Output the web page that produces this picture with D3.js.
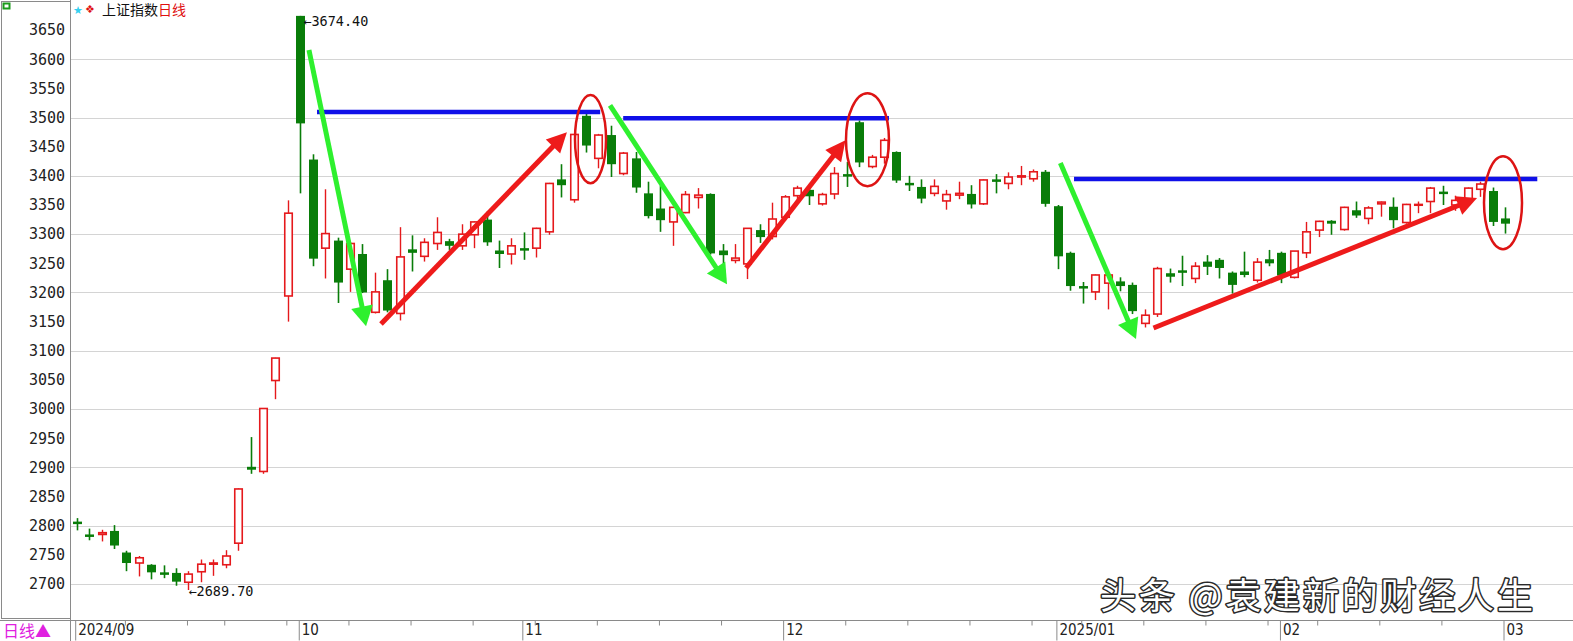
<!DOCTYPE html>
<html><head><meta charset="utf-8">
<script src="https://cdn.jsdelivr.net/npm/d3@7"></script>
<style>html,body{margin:0;padding:0;background:#fff;overflow:hidden}</style>
</head><body>
<svg id="chart" width="1573" height="641"></svg>
<script>
// ---------- DATA ----------
const dates = [
"2024-09-03","2024-09-04","2024-09-05","2024-09-06","2024-09-09","2024-09-10","2024-09-11","2024-09-12","2024-09-13","2024-09-18","2024-09-19","2024-09-20","2024-09-23","2024-09-24","2024-09-25","2024-09-26","2024-09-27","2024-09-30",
"2024-10-08","2024-10-09","2024-10-10","2024-10-11","2024-10-14","2024-10-15","2024-10-16","2024-10-17","2024-10-18","2024-10-21","2024-10-22","2024-10-23","2024-10-24","2024-10-25","2024-10-28","2024-10-29","2024-10-30","2024-10-31",
"2024-11-01","2024-11-04","2024-11-05","2024-11-06","2024-11-07","2024-11-08","2024-11-11","2024-11-12","2024-11-13","2024-11-14","2024-11-15","2024-11-18","2024-11-19","2024-11-20","2024-11-21","2024-11-22","2024-11-25","2024-11-26","2024-11-27","2024-11-28","2024-11-29",
"2024-12-02","2024-12-03","2024-12-04","2024-12-05","2024-12-06","2024-12-09","2024-12-10","2024-12-11","2024-12-12","2024-12-13","2024-12-16","2024-12-17","2024-12-18","2024-12-19","2024-12-20","2024-12-23","2024-12-24","2024-12-25","2024-12-26","2024-12-27","2024-12-30","2024-12-31",
"2025-01-02","2025-01-03","2025-01-06","2025-01-07","2025-01-08","2025-01-09","2025-01-10","2025-01-13","2025-01-14","2025-01-15","2025-01-16","2025-01-17","2025-01-20","2025-01-21","2025-01-22","2025-01-23","2025-01-24","2025-01-27",
"2025-02-05","2025-02-06","2025-02-07","2025-02-10","2025-02-11","2025-02-12","2025-02-13","2025-02-14","2025-02-17","2025-02-18","2025-02-19","2025-02-20","2025-02-21","2025-02-24","2025-02-25","2025-02-26","2025-02-27","2025-02-28",
"2025-03-03"];

const openV = [2807,2785,2785,2791,2754,2736,2733,2720,2719,2703,2721,2734,2733,2770,2901,2893,3049,3194,
3674.4,3428,3276,3289,3240,3266,3166,3221,3164,3274,3262,3284,3288,3280,3299,3325,3272,3266,
3276,3276,3304,3394,3359,3503,3430,3470,3404,3430,3370,3344,3321,3337,3363,3369,3272,3255,3249,3307,3296,
3329,3366,3376,3352,3369,3403,3492,3416,3432,3441,3388,3381,3370,3357,3367,3369,3352,3394,3387,3398,3395,3407,
3348,3268,3211,3201,3216,3219,3213,3147,3163,3233,3238,3224,3253,3256,3234,3236,3221,3257,
3268,3226,3268,3307,3323,3308,3341,3327,3352,3347,3320,3350,3356,3373,3350,3360,3377,3374,
3327];
const highV = [2813,2795,2793,2801,2757,2748,2734,2732,2727,2722,2742,2742,2758,2864,2952,3001,3088,3358,
3674.4,3437,3377,3294,3286,3283,3234,3240,3312,3298,3293,3329,3292,3317,3322,3339,3289,3293,
3303,3311,3388,3420,3472,3509,3472,3486,3441,3441,3390,3383,3347,3374,3379,3370,3283,3283,3310,3317,3354,
3367,3383,3380,3371,3415,3424,3495,3436,3465,3442,3400,3394,3394,3376,3390,3384,3394,3403,3406,3417,3411,3410,
3350,3270,3218,3231,3231,3226,3217,3171,3244,3241,3263,3252,3264,3259,3236,3270,3259,3273,
3270,3271,3321,3323,3324,3347,3356,3348,3356,3363,3352,3356,3381,3383,3366,3380,3390,3380,
3346];
const lowV = [2792,2775,2773,2760,2722,2713,2708,2710,2697,2689.7,2703,2714,2727,2757,2889,2889,3017,3150,
3370,3245,3224,3182,3201,3199,3164,3166,3152,3236,3253,3273,3273,3273,3276,3280,3242,3248,
3256,3260,3299,3363,3354,3440,3413,3398,3401,3371,3327,3304,3280,3336,3344,3265,3245,3250,3223,3285,3291,
3324,3357,3350,3349,3360,3381,3415,3413,3421,3388,3374,3353,3365,3342,3360,3344,3350,3370,3377,3384,3390,3347,
3240,3203,3181,3187,3171,3202,3163,3140,3158,3217,3211,3216,3230,3224,3198,3226,3217,3245,
3216,3224,3259,3295,3299,3306,3328,3317,3330,3310,3318,3336,3336,3350,3340,3350,3364,3314,
3301];
const closeV = [2803,2784,2788,2766,2736,2745,2720,2717,2704,2717,2734,2736,2748,2863,2896,3001,3087.5,3336,
3490,3258,3301,3217,3284,3200,3201,3169,3261,3268,3286,3303,3280,3300,3321,3286,3266,3280,
3272,3310,3387,3384,3471,3452,3470,3420,3439,3380,3331,3324,3346,3368,3367,3267,3264,3259,3310,3295,3326,
3364,3379,3365,3368,3404,3402,3423,3432,3461,3392,3386,3361,3382,3368,3370,3351,3393,3393,3398,3400,3407,3352,
3262,3211,3207,3230,3230,3211,3168,3161,3241,3227,3236,3245,3244,3242,3213,3230,3252,3250,
3229,3271,3304,3322,3318,3346,3332,3345,3355,3324,3351,3351,3379,3370,3358,3379,3386,3321,
3318];

const yTickValues = [2700,2750,2800,2850,2900,2950,3000,3050,3100,3150,3200,3250,3300,3350,3400,3450,3500,3550,3600,3650];
const gridValues  = [2700,2800,2900,3000,3100,3200,3300,3400,3500,3600];
const monthTickDates  = ["2024-09-03","2024-10-08","2024-11-01","2024-12-02","2025-01-02","2025-02-05","2025-03-03"];
const monthTickLabels = ["2024/09","10","11","12","2025/01","02","03"];
const weekTickDates = ["2024-09-09","2024-09-18","2024-09-23","2024-09-30","2024-10-14","2024-10-21","2024-10-28","2024-11-04","2024-11-11","2024-11-18","2024-11-25","2024-12-09","2024-12-16","2024-12-23","2024-12-30","2025-01-06","2025-01-13","2025-01-20","2025-01-27","2025-02-10","2025-02-17","2025-02-24"];

// annotation marks in data coordinates (candle index, price)
const levelLines = [[19.35, 42.15, 3509.5],[44.0, 65.4, 3499],[80.3, 117.6, 3394.5]];
const greenArrows = [[18.7, 3616, 23.3, 3142],[42.94, 3521, 52.36, 3214],[79.2, 3422, 85.29, 3120]];
const redArrows   = [[24.5, 3146, 39.47, 3475],[53.9, 3242, 61.9, 3461],[86.7, 3139, 112.75, 3362]];
const ellipses    = [[41.37, 3463, 1.25, 75.5],[63.67, 3462, 1.73, 79.7],[114.84, 3354, 1.53, 79.7]];
const priceNotes  = [[18, 3674.40, "high"],[9, 2689.70, "low"]];

// ---------- DRAW ----------
const W = 1573, H = 641;
const svg = d3.select("#chart");
const step = 12.42, firstCenter = 76.7;
const x = d3.scalePoint().domain(dates).range([firstCenter, firstCenter + step*(dates.length-1)]);
const xi = d3.scaleLinear().domain([0, dates.length-1]).range([firstCenter, firstCenter + step*(dates.length-1)]);
const y = d3.scaleLinear().domain([2700, 3650]).range([584, 30.1]);

const RED = "#e5191c", GREEN = "#097d09";

// grid
svg.append("g").selectAll("line").data(gridValues).join("line")
  .attr("x1", 71).attr("x2", W).attr("y1", d => Math.round(y(d))+0.5).attr("y2", d => Math.round(y(d))+0.5)
  .attr("stroke", "#d4d4d4").attr("stroke-width", 1);

// left panel box
svg.append("rect").attr("x", 1.5).attr("y", 1.5).attr("width", 69).attr("height", 617)
  .attr("fill", "none").attr("stroke", "#8a8a8a").attr("stroke-width", 1);

// y axis labels
const yAxis = d3.axisLeft(y).tickValues(yTickValues).tickSize(0).tickPadding(0).tickFormat(d3.format("d"));
const gy = svg.append("g").attr("transform", "translate(65,0)").call(yAxis);
gy.select(".domain").remove();
gy.selectAll("text").attr("font-family", "'DejaVu Sans Mono', monospace").attr("font-size", 15).attr("fill", "#222");

// x axis row
svg.append("line").attr("x1", 0).attr("x2", W).attr("y1", 620.5).attr("y2", 620.5).attr("stroke", "#8a8a8a");
svg.append("line").attr("x1", 70.5).attr("x2", 70.5).attr("y1", 0).attr("y2", 641).attr("stroke", "#8a8a8a");
const xAxis = d3.axisBottom(x).tickValues(monthTickDates).tickSize(20)
  .tickFormat((d,i) => monthTickLabels[i]);
const gx = svg.append("g").attr("transform", "translate(-1.5,620.5)").call(xAxis);
gx.select(".domain").remove();
gx.selectAll("line").attr("stroke", "#8a8a8a");
gx.selectAll("text").attr("text-anchor", "start").attr("x", 2.5).attr("y", 4).attr("dy", "0.71em")
  .attr("font-family", "'DejaVu Sans Condensed', 'DejaVu Sans', sans-serif").attr("font-size", 15).attr("fill", "#222");
const xAxisMinor = d3.axisBottom(x).tickValues(weekTickDates).tickSize(5).tickFormat("");
const gxm = svg.append("g").attr("transform", "translate(-1.5,620.5)").call(xAxisMinor);
gxm.select(".domain").remove();
gxm.selectAll("line").attr("stroke", "#8a8a8a");

svg.append("text").attr("x", 3).attr("y", 637).text("日线▲")
  .attr("font-family", "'Noto Sans CJK SC', sans-serif").attr("font-size", 16).attr("fill", "#e020e0");

// header
svg.append("rect").attr("x", 3.5).attr("y", 3.5).attr("width", 6).attr("height", 5).attr("fill", "none").attr("stroke", "#1a9a1a").attr("stroke-width", 2);
svg.append("text").attr("x", 73).attr("y", 14).text("★").attr("font-size", 11).attr("fill", "#35d0f0");
svg.append("text").attr("x", 85).attr("y", 13).text("❖").attr("font-family","DejaVu Sans").attr("font-size", 11).attr("fill", "#e01010");
const head = svg.append("text").attr("x", 102).attr("y", 15).attr("font-family", "'Noto Sans CJK SC', sans-serif").attr("font-size", 14);
head.append("tspan").text("上证指数").attr("fill", "#111");
head.append("tspan").text("日线").attr("fill", "#e01010");

// candles
const candles = svg.append("g");
dates.forEach((d, i) => {
  const o = openV[i], h = highV[i], l = lowV[i], c = closeV[i];
  const up = c >= o;
  const cx = Math.round(x(d)) + 0.5;
  const col = up ? RED : GREEN;
  candles.append("line").attr("x1", cx).attr("x2", cx).attr("y1", y(h)).attr("y2", y(l))
    .attr("stroke", col).attr("stroke-width", up ? 1.4 : 1.6);
  const top = y(Math.max(o, c)), bot = y(Math.min(o, c));
  if (up) {
    candles.append("rect").attr("x", cx - 3.75).attr("y", top).attr("width", 7.5).attr("height", Math.max(0.8, bot - top))
      .attr("fill", "#fff").attr("stroke", col).attr("stroke-width", 1.6);
  } else {
    candles.append("rect").attr("x", cx - 4.5).attr("y", top).attr("width", 9).attr("height", Math.max(2.5, bot - top))
      .attr("fill", col);
  }
});

// price notes
priceNotes.forEach(([i, v, kind]) => {
  const cx = xi(i) + (kind === "high" ? 3 : 0), cy = y(v) + (kind === "high" ? 5 : 1.5);
  svg.append("text").attr("x", cx).attr("y", cy).attr("dy", "0.35em").text("←" + v.toFixed(2))
    .attr("font-family", "'DejaVu Sans Mono', monospace").attr("font-size", 13.5).attr("fill", "#111");
});

// level lines
svg.append("g").selectAll("line").data(levelLines).join("line")
  .attr("x1", d => xi(d[0])).attr("x2", d => xi(d[1])).attr("y1", d => y(d[2])).attr("y2", d => y(d[2]))
  .attr("stroke", "#1010e8").attr("stroke-width", 4.5);

function arrow(g, x1, y1, x2, y2, color, w, hl, hw) {
  const dx = x2 - x1, dy = y2 - y1, L = Math.hypot(dx, dy), ux = dx / L, uy = dy / L;
  const bx = x2 - ux * hl, by = y2 - uy * hl;
  g.append("line").attr("x1", x1).attr("y1", y1).attr("x2", bx + ux * 2).attr("y2", by + uy * 2)
    .attr("stroke", color).attr("stroke-width", w);
  g.append("polygon").attr("points", [[x2, y2], [bx - uy * hw / 2, by + ux * hw / 2], [bx + uy * hw / 2, by - ux * hw / 2]].map(p => p.join(",")).join(" "))
    .attr("fill", color);
}
const ag = svg.append("g");
greenArrows.forEach(a => arrow(ag, xi(a[0]), y(a[1]), xi(a[2]), y(a[3]), "#2ef02e", 5, 20, 22));
redArrows.forEach(a => arrow(ag, xi(a[0]), y(a[1]), xi(a[2]), y(a[3]), "#ee1b1b", 5, 20, 20));

// ellipses
svg.append("g").selectAll("ellipse").data(ellipses).join("ellipse")
  .attr("cx", d => xi(d[0])).attr("cy", d => y(d[1]))
  .attr("rx", d => xi(d[0] + d[2]) - xi(d[0])).attr("ry", d => y(d[1] - d[3]) - y(d[1]))
  .attr("fill", "none").attr("stroke", "#dd1414").attr("stroke-width", 2.5);

// watermark
const wm = "头条 @袁建新的财经人生";
svg.append("text").attr("x", 1100).attr("y", 609).text(wm)
  .attr("font-family", "'Noto Sans CJK SC', sans-serif").attr("font-size", 36).attr("letter-spacing", 2.8)
  .attr("fill", "#fff").attr("stroke", "#2a2a2a").attr("stroke-width", 3).attr("paint-order", "stroke")
  .attr("stroke-linejoin", "round");
</script>
</body></html>
